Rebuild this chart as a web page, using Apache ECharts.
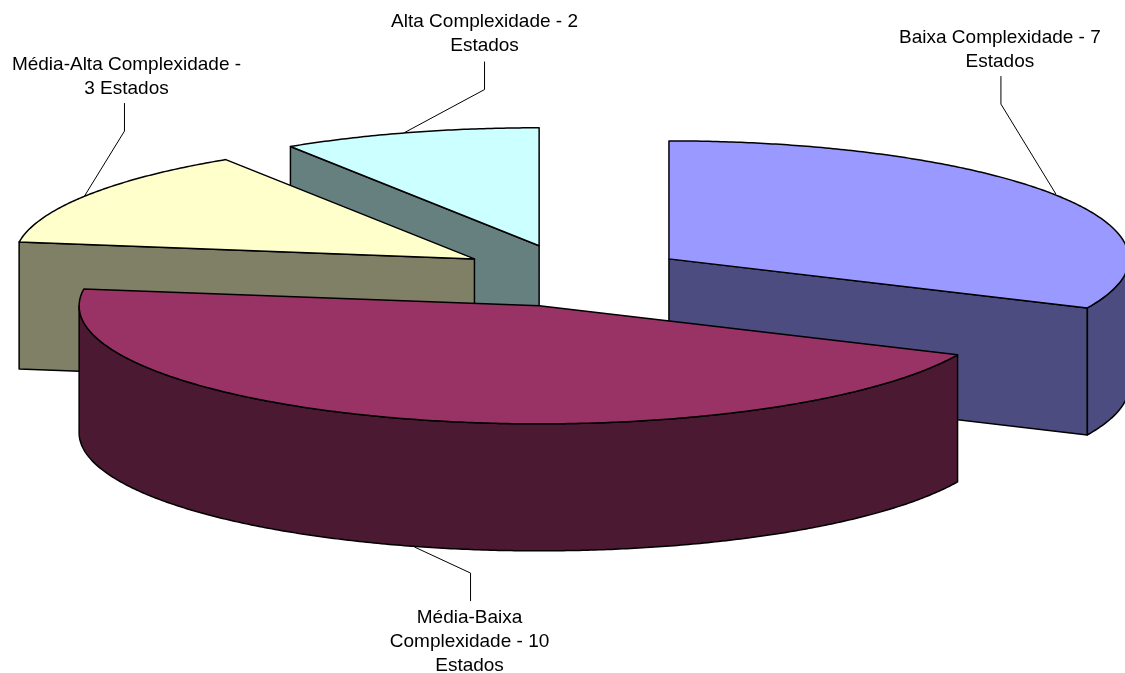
<!DOCTYPE html>
<html>
<head>
<meta charset="utf-8">
<style>html,body{margin:0;padding:0;background:#fff}#c{width:1125px;height:673px}</style>
<script src="https://cdn.jsdelivr.net/npm/echarts@6/dist/echarts.min.js"></script>
</head>
<body>
<div id="c"></div>
<script>
const categories = ['Baixa Complexidade', 'Média-Baixa Complexidade', 'Média-Alta Complexidade', 'Alta Complexidade'];
const states = [7, 10, 3, 2];
const sliceLabels = [
  'Baixa Complexidade - 7\nEstados',
  'Média-Baixa\nComplexidade - 10\nEstados',
  'Média-Alta Complexidade -\n3 Estados',
  'Alta Complexidade - 2\nEstados'
];
const topColors = ['#9999FF', '#993366', '#FFFFCC', '#CCFFFF'];
const wallColors = ['#4C4C80', '#4C1933', '#808066', '#668080'];
// leader geometry, all relative to the rim anchor computed from the slice's mid angle
const anchorNudge = [[0, -1], [5, 1], [-3, 1], [-5, 0]];
const leaderElbow = [[-55, -90], [56, 26], [40, -65], [80, -43]];
const leaderEnd = [[0, -28], [0, 28], [0, -28], [0, -28]];
const labelNudge = [[-1, -2], [-1, 5], [2, -2], [0, -4]];

const GEO = {cx: 571.7, cy: 275.8, rx: 460, ry: 118, depth: 127, explodeX: 115.6, explodeY: 31.3};
const RAD = Math.PI / 180;
const total = states.reduce((a, b) => a + b, 0);

function rim(c, deg, dy) {
  return [c[0] + GEO.rx * Math.sin(deg * RAD), c[1] - GEO.ry * Math.cos(deg * RAD) + (dy || 0)];
}
function arc(c, a, b, dy) {
  const n = Math.max(2, Math.ceil(Math.abs(b - a) * 2));
  const pts = [];
  for (let i = 0; i <= n; i++) pts.push(rim(c, a + (b - a) * i / n, dy));
  return pts;
}
const lineStyle = {stroke: '#000', lineWidth: 1.5, lineJoin: 'round'};

function renderSlice(params, api) {
  const i = params.dataIndex;
  const value = api.value(0);
  let before = 0;
  for (let k = 0; k < i; k++) before += states[k];
  const a0 = before / total * 360, a1 = (before + value) / total * 360, mid = (a0 + a1) / 2;
  const c = [GEO.cx + GEO.explodeX * Math.sin(mid * RAD), GEO.cy - GEO.explodeY * Math.cos(mid * RAD)];
  const z = Math.round(c[1]) * 10;
  const kids = [];
  const wall = pts => kids.push({type: 'polygon', z2: z, shape: {points: pts},
    style: Object.assign({fill: wallColors[i]}, lineStyle)});
  const face = deg => {
    const p = rim(c, deg);
    wall([c, p, [p[0], p[1] + GEO.depth], [c[0], c[1] + GEO.depth]]);
  };
  if (Math.sin(a0 * RAD) < -1e-6) face(a0);
  if (Math.sin(a1 * RAD) > 1e-6) face(a1);
  const wa = Math.max(a0, 90), wb = Math.min(a1, 270);
  if (wb > wa) wall(arc(c, wa, wb).concat(arc(c, wb, wa, GEO.depth)));
  kids.push({type: 'polygon', z2: z + 1, shape: {points: [c].concat(arc(c, a0, a1))},
    style: Object.assign({fill: topColors[i]}, lineStyle)});
  // leader line and label
  const front = Math.cos(mid * RAD) < 0;
  const r = rim(c, mid, front ? GEO.depth : 0);
  const s = [r[0] + anchorNudge[i][0], r[1] + anchorNudge[i][1]];
  const e = [s[0] + leaderElbow[i][0], s[1] + leaderElbow[i][1]];
  const t = [e[0] + leaderEnd[i][0], e[1] + leaderEnd[i][1]];
  kids.push({type: 'polyline', z2: 5000, shape: {points: [s, e, t]},
    style: {stroke: '#000', lineWidth: 1, fill: null}});
  kids.push({type: 'text', z2: 5001, x: t[0] + labelNudge[i][0], y: t[1] + labelNudge[i][1],
    style: {text: sliceLabels[i], fill: '#000', font: '19px "Liberation Sans", Arial, sans-serif',
      align: 'center', verticalAlign: front ? 'top' : 'bottom', lineHeight: 24}});
  return {type: 'group', children: kids};
}

const chart = echarts.init(document.getElementById('c'), null, {renderer: 'canvas'});
chart.setOption({
  animation: false,
  backgroundColor: '#fff',
  series: [{
    type: 'custom',
    coordinateSystem: 'none',
    renderItem: renderSlice,
    data: categories.map((n, i) => ({name: n, value: [states[i]]}))
  }]
});
</script>
</body>
</html>
